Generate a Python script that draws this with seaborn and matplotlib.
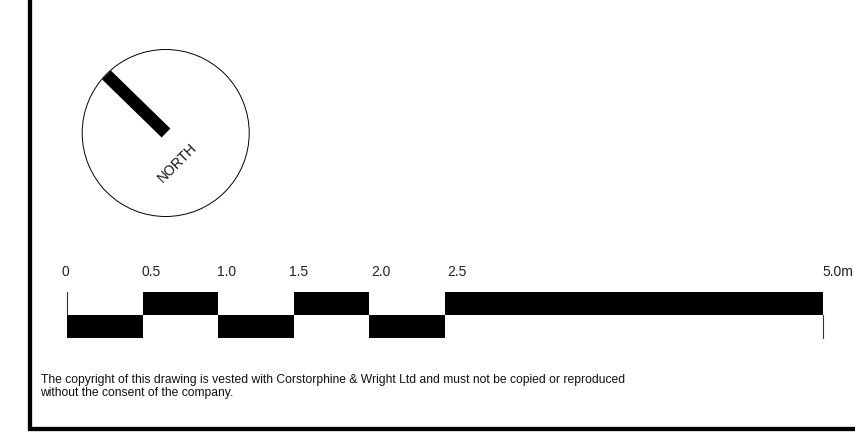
import numpy as np
import pandas as pd
import matplotlib
matplotlib.use("Agg")
import matplotlib.pyplot as plt
from matplotlib.patches import Circle
import seaborn as sns

# scale bar values, metres
seg_start = [0, 0.5, 1.0, 1.5, 2.0, 2.5]
seg_end = [0.5, 1.0, 1.5, 2.0, 2.5, 5.0]
seg_row = [0, 1, 0, 1, 0, 1]
scale_labels = ["0", "0.5", "1.0", "1.5", "2.0", "2.5", "5.0m"]
scale_label_at = [0, 0.5, 1.0, 1.5, 2.0, 2.5, 5.0]
label_shift_px = [-2, 9, 8, 5, 12, 12, 15]

copyright_text = ("The copyright of this drawing is vested with Corstorphine & Wright Ltd "
                  "and must not be copied or reproduced\nwithout the consent of the company.")

sns.set_theme(style="white")
plt.rcParams['font.family'] = ['Liberation Sans', 'DejaVu Sans']

W, H = 855, 446
fig = plt.figure(figsize=(W / 100, H / 100), dpi=100)

# sheet axes, one unit = one pixel
sheet = fig.add_axes([0, 0, 1, 1])
sheet.set_xlim(0, W)
sheet.set_ylim(H, 0)
sheet.axis("off")

# drawing frame
frame = pd.DataFrame({"x": [29.5, 29.5, 855], "y": [0, 429, 429]})
sns.lineplot(data=frame, x="x", y="y", ax=sheet, color="black", linewidth=3.1,
             sort=False, estimator=None, solid_joinstyle="miter")

# north point
sheet.add_patch(Circle((165.7, 133), 83.5, fill=False, edgecolor="black", linewidth=0.7))
needle = pd.DataFrame({"x": [106.5, 166], "y": [75, 133]})
sns.lineplot(data=needle, x="x", y="y", ax=sheet, color="black", linewidth=9,
             sort=False, estimator=None, solid_capstyle="butt")
sheet.text(177, 162.5, "NORTH", rotation=45, rotation_mode="anchor", ha="center", va="center",
           fontsize=10, color="#111111")

sheet.text(40.5, 386.5, copyright_text, fontsize=8.7, color="#111111", va="center", ha="left",
           linespacing=1.17)
sheet.set_xlabel("")
sheet.set_ylabel("")

# scale bar axes, in metres
x0, x1, y_top, y_bot = 67, 823, 292, 338
bar_ax = fig.add_axes([x0 / W, 1 - y_bot / H, (x1 - x0) / W, (y_bot - y_top) / H])
bar_ax.set_xlim(0, 5)
bar_ax.set_ylim(0, 2)
bar_ax.axis("off")
widths = np.array(seg_end) - np.array(seg_start)
bar_ax.bar(seg_start, [1] * len(seg_row), width=widths, bottom=seg_row, align="edge",
           color="black", linewidth=0)

# end ticks
bar_ax.plot([0, 0], [1, 2], color="#333333", linewidth=0.8, clip_on=False)
bar_ax.plot([5, 5], [0, 1], color="#333333", linewidth=0.8, clip_on=False)

for lab, at, shift in zip(scale_labels, scale_label_at, label_shift_px):
    bar_ax.annotate(lab, xy=(at, 2), xycoords="data", xytext=(shift * 0.72, 20.2 * 0.72),
                    textcoords="offset points", ha="center", va="center",
                    fontsize=10, color="#222222", annotation_clip=False)

fig.savefig("out.png", dpi=100)
